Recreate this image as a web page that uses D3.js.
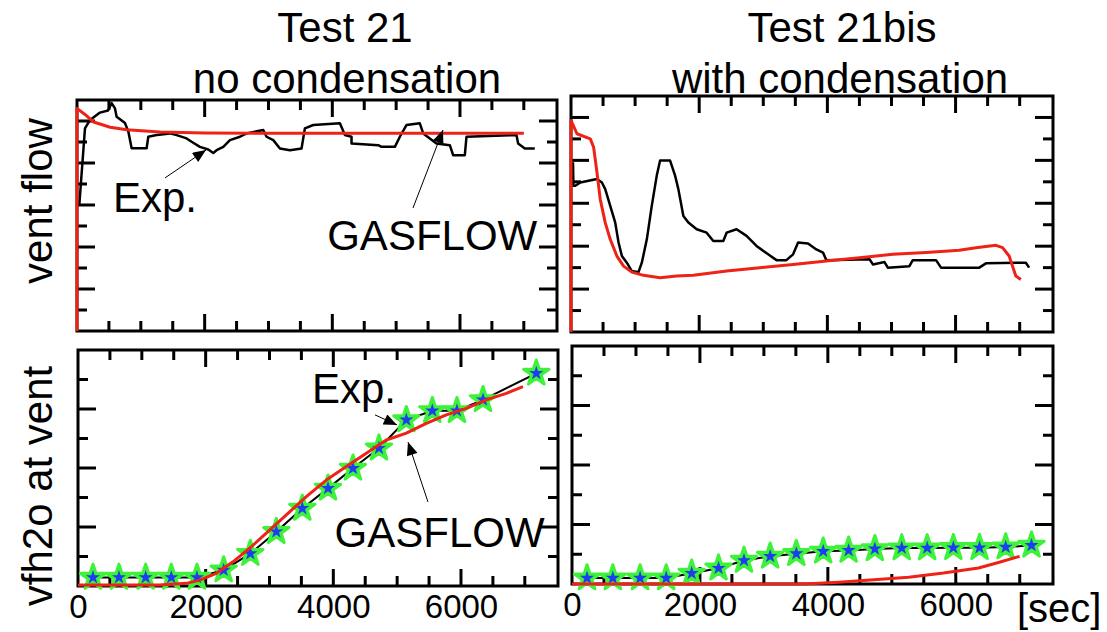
<!DOCTYPE html>
<html>
<head>
<meta charset="utf-8">
<script src="https://cdn.jsdelivr.net/npm/d3@7"></script>
<style>
  body { margin: 0; background: #fff; }
  text { font-family: "Liberation Sans", Arial, Helvetica, sans-serif; fill: #000; }
</style>
</head>
<body>
<svg id="chart"></svg>
<script>
var width = 1107,
  height = 632;

// x: time [sec], y: arbitrary units (no y labels on the original)
var xTickValues = d3.range(500, 7001, 500);
var xLabels = [0, 2000, 4000, 6000];

// Test 21, vent flow
var flowExp21 = [[36, 6.0], [125, 9.65], [204, 10.05], [360, 10.4], [486, 10.5], [543, 10.85], [595, 10.6],
  [621, 10.2], [752, 9.9], [804, 9.5], [856, 8.7], [1091, 8.7], [1117, 9.25], [1248, 9.33], [1456, 9.41],
  [1561, 9.33], [1717, 9.17], [1796, 9.01], [1926, 8.77], [2057, 8.64], [2135, 8.48], [2187, 8.61],
  [2292, 8.77], [2396, 9.09], [2553, 9.25], [2657, 9.41], [2918, 9.57], [2970, 9.25], [3075, 9.09],
  [3179, 8.69], [3336, 8.61], [3518, 8.69], [3570, 9.65], [3701, 9.81], [4119, 9.89], [4197, 9.33],
  [4301, 9.25], [4301, 8.93], [4719, 8.85], [4771, 8.77], [4980, 8.77], [5058, 9.25], [5163, 9.81],
  [5371, 9.89], [5424, 9.41], [5528, 9.17], [5632, 8.93], [5841, 8.85], [5893, 8.37], [6076, 8.37],
  [6102, 9.25], [6885, 9.33], [6911, 8.93], [7016, 8.69], [7172, 8.69]];
var flowSim21 = [[0, 0], [0, 10.6], [130, 10.3], [260, 9.95], [520, 9.7], [780, 9.58], [1300, 9.48],
  [2000, 9.43], [3000, 9.42], [5000, 9.42], [7000, 9.42]];

// Test 21bis, vent flow
var flowExp21b = [[31, 7.91], [38, 6.82], [67, 6.82], [145, 6.97], [405, 7.13], [482, 6.97], [534, 6.66],
  [612, 5.88], [690, 5.10], [742, 4.17], [794, 3.54], [871, 3.23], [949, 2.84], [1053, 2.79], [1105, 3.23],
  [1183, 4.32], [1260, 5.88], [1338, 7.29], [1390, 7.99], [1546, 7.99], [1624, 7.29], [1675, 6.66],
  [1753, 5.41], [1831, 5.10], [1961, 4.79], [2116, 4.63], [2220, 4.24], [2376, 4.24], [2428, 4.63],
  [2583, 4.79], [2739, 4.48], [2894, 4.01], [3076, 3.62], [3206, 3.35], [3361, 3.35], [3465, 3.62],
  [3543, 4.17], [3698, 4.13], [3828, 3.85], [3932, 3.70], [3984, 3.35], [4658, 3.39], [4710, 3.15],
  [4891, 3.26], [4943, 3.0], [5280, 3.07], [5332, 3.35], [5695, 3.35], [5773, 3.0], [6370, 3.0],
  [6473, 3.20], [7096, 3.23], [7148, 3.0]];
var flowSim21b = [[0, 0], [0, 9.86], [93, 9.24], [301, 9.0], [353, 8.61], [405, 7.44], [456, 6.19],
  [534, 5.10], [612, 4.32], [716, 3.54], [820, 3.07], [949, 2.79], [1131, 2.64], [1390, 2.53],
  [1649, 2.61], [1909, 2.64], [2428, 2.84], [2946, 3.0], [3465, 3.15], [3984, 3.31], [4502, 3.46],
  [5021, 3.62], [5540, 3.70], [6058, 3.81], [6318, 3.93], [6629, 4.04], [6733, 3.93], [6836, 3.54],
  [6888, 3.07], [6940, 2.61], [7018, 2.45]];

// Test 21, vfh2o at vent
var vapExp21 = [[235, 0.29], [642, 0.29], [1060, 0.29], [1462, 0.29], [1864, 0.29], [2282, 0.54],
  [2700, 1.10], [3107, 1.84], [3514, 2.63], [3917, 3.31], [4308, 3.99], [4715, 4.67], [5144, 5.63],
  [5551, 5.94], [5937, 5.94], [6345, 6.31], [7180, 7.21]];
var vapSim21 = [[0, 0.03], [1279, 0.03], [1697, 0.09], [1906, 0.2], [2167, 0.43], [2428, 0.82],
  [2689, 1.28], [2950, 1.79], [3264, 2.41], [3577, 3.03], [3890, 3.59], [4204, 4.05], [4517, 4.50],
  [4830, 4.95], [5144, 5.18], [5457, 5.51], [5770, 5.80], [6084, 6.02], [6397, 6.31], [6710, 6.53],
  [6971, 6.76]];

// Test 21bis, vfh2o at vent
var vapExp21b = [[235, 0.20], [638, 0.20], [1064, 0.20], [1473, 0.20], [1871, 0.36], [2291, 0.53],
  [2689, 0.79], [3098, 0.93], [3507, 1.02], [3927, 1.10], [4325, 1.13], [4735, 1.18], [5155, 1.21],
  [5553, 1.21], [5962, 1.22], [6371, 1.22], [6780, 1.24], [7184, 1.30]];
var vapSim21b = [[0, 0], [3627, 0], [4173, 0.06], [4718, 0.14], [5264, 0.23], [5809, 0.37],
  [6355, 0.54], [6682, 0.73], [6998, 0.93]];

var svg = d3.select('#chart')
  .attr('width', width)
  .attr('height', height);

svg.append('defs').append('marker')
  .attr('id', 'arrow')
  .attr('viewBox', '0 0 12 10')
  .attr('refX', 12)
  .attr('refY', 5)
  .attr('markerUnits', 'userSpaceOnUse')
  .attr('markerWidth', 14)
  .attr('markerHeight', 11)
  .attr('orient', 'auto')
  .append('path')
  .attr('d', 'M0,0L12,5L0,10Z')
  .attr('fill', '#000');

var panels = [
  { x0: 77, x1: 557, y0: 100, y1: 331, yMax: 11, exp: flowExp21, sim: flowSim21, stars: false, labels: false,
    notes: [{ text: 'Exp.', at: [564, 5.67], from: [1379, 7.29], to: [2021, 8.62] },
            { text: 'GASFLOW', at: [3920, 3.86], from: [5264, 5.86], to: [5734, 9.57] }] },
  { x0: 571, x1: 1053, y0: 96, y1: 332, yMax: 11, exp: flowExp21b, sim: flowSim21b, stars: false, labels: false, notes: [] },
  { x0: 78, x1: 558, y0: 350, y1: 586, yMax: 8, exp: vapExp21, sim: vapSim21, stars: true, labels: true,
    notes: [{ text: 'Exp.', at: [3666, 6.20], from: [4653, 5.80], to: [4998, 5.46] },
            { text: 'GASFLOW', at: [4020, 1.32], from: [5483, 2.85], to: [5170, 4.88] }] },
  { x0: 572, x1: 1053, y0: 346, y1: 584, yMax: 8, exp: vapExp21b, sim: vapSim21b, stars: true, labels: true, notes: [] }
];

var star = d3.symbol().type(d3.symbolStar);

panels.forEach(function(p) {
  var x = d3.scaleLinear().domain([0, 7520]).range([p.x0, p.x1]);
  var y = d3.scaleLinear().domain([0, p.yMax]).range([p.y1, p.y0]);
  var g = svg.append('g');

  var yTickValues = d3.range(1, p.yMax);
  var xLen = function(v) { return v % 2000 === 0 ? 17 : 10; };
  var yLen = function(v) { return v % 2 === 0 ? 18 : 10; };

  // inward ticks on all four sides
  var ticks = g.append('g')
    .attr('stroke', '#000')
    .attr('stroke-width', 3);

  ticks.selectAll('.xb')
    .data(xTickValues)
    .enter().append('line')
    .attr('x1', function(d) { return x(d); })
    .attr('x2', function(d) { return x(d); })
    .attr('y1', p.y1)
    .attr('y2', function(d) { return p.y1 - xLen(d); });
  ticks.selectAll('.xt')
    .data(xTickValues)
    .enter().append('line')
    .attr('x1', function(d) { return x(d); })
    .attr('x2', function(d) { return x(d); })
    .attr('y1', p.y0)
    .attr('y2', function(d) { return p.y0 + xLen(d); });
  ticks.selectAll('.yl')
    .data(yTickValues)
    .enter().append('line')
    .attr('y1', function(d) { return y(d); })
    .attr('y2', function(d) { return y(d); })
    .attr('x1', p.x0)
    .attr('x2', function(d) { return p.x0 + yLen(d); });
  ticks.selectAll('.yr')
    .data(yTickValues)
    .enter().append('line')
    .attr('y1', function(d) { return y(d); })
    .attr('y2', function(d) { return y(d); })
    .attr('x1', p.x1)
    .attr('x2', function(d) { return p.x1 - yLen(d); });

  g.append('rect')
    .attr('x', p.x0)
    .attr('y', p.y0)
    .attr('width', p.x1 - p.x0)
    .attr('height', p.y1 - p.y0)
    .attr('fill', 'none')
    .attr('stroke', '#000')
    .attr('stroke-width', 3);

  if (p.labels) {
    var ax = g.append('g')
      .attr('transform', 'translate(0,' + p.y1 + ')')
      .call(d3.axisBottom(x).tickValues(xLabels).tickSize(0).tickPadding(9).tickFormat(d3.format('d')));
    ax.select('.domain').remove();
    ax.selectAll('text')
      .attr('font-size', 33)
      .attr('font-family', '"Liberation Sans", Arial, sans-serif')
      .attr('fill', '#000');
  }

  var line = d3.line()
    .x(function(d) { return x(d[0]); })
    .y(function(d) { return y(d[1]); });

  g.append('path')
    .datum(p.exp)
    .attr('d', line)
    .attr('fill', 'none')
    .attr('stroke', '#000')
    .attr('stroke-width', p.stars ? 2 : 2.5)
    .attr('stroke-linejoin', 'round');

  if (p.stars) {
    var s = g.selectAll('.star')
      .data(p.exp)
      .enter().append('g')
      .attr('class', 'star')
      .attr('transform', function(d) { return 'translate(' + x(d[0]) + ',' + y(d[1]) + ')'; });
    s.append('path')
      .attr('d', star.size(200)())
      .attr('fill', '#3ef23a')
      .attr('stroke', '#3ef23a')
      .attr('stroke-width', 3)
      .attr('stroke-linejoin', 'round');
    s.append('path')
      .attr('d', star.size(62)())
      .attr('fill', '#1d3df0');
  }

  g.append('path')
    .datum(p.sim)
    .attr('d', line)
    .attr('fill', 'none')
    .attr('stroke', '#ee2216')
    .attr('stroke-width', 3)
    .attr('stroke-linejoin', 'round');

  p.notes.forEach(function(n) {
    g.append('text')
      .attr('x', x(n.at[0]))
      .attr('y', y(n.at[1]))
      .attr('font-size', 42)
      .text(n.text);
    g.append('line')
      .attr('x1', x(n.from[0]))
      .attr('y1', y(n.from[1]))
      .attr('x2', x(n.to[0]))
      .attr('y2', y(n.to[1]))
      .attr('stroke', '#000')
      .attr('stroke-width', 1)
      .attr('marker-end', 'url(#arrow)');
  });
});

// titles
var titles = [
  { x: 345, y: 42, text: 'Test 21' },
  { x: 347, y: 93, text: 'no condensation' },
  { x: 842, y: 42, text: 'Test 21bis' },
  { x: 840, y: 93, text: 'with condensation' }
];
svg.selectAll('.title')
  .data(titles)
  .enter().append('text')
  .attr('class', 'title')
  .attr('x', function(d) { return d.x; })
  .attr('y', function(d) { return d.y; })
  .attr('text-anchor', 'middle')
  .attr('font-size', 42)
  .text(function(d) { return d.text; });

var yTitles = [
  { y: 201, text: 'vent flow' },
  { y: 486, text: 'vfh2o at vent' }
];
svg.selectAll('.ytitle')
  .data(yTitles)
  .enter().append('text')
  .attr('class', 'ytitle')
  .attr('transform', function(d) { return 'translate(52,' + d.y + ')rotate(-90)'; })
  .attr('text-anchor', 'middle')
  .attr('font-size', 42)
  .text(function(d) { return d.text; });

svg.append('text')
  .attr('x', 1017)
  .attr('y', 622)
  .attr('font-size', 40)
  .text('[sec]');
</script>
</body>
</html>
